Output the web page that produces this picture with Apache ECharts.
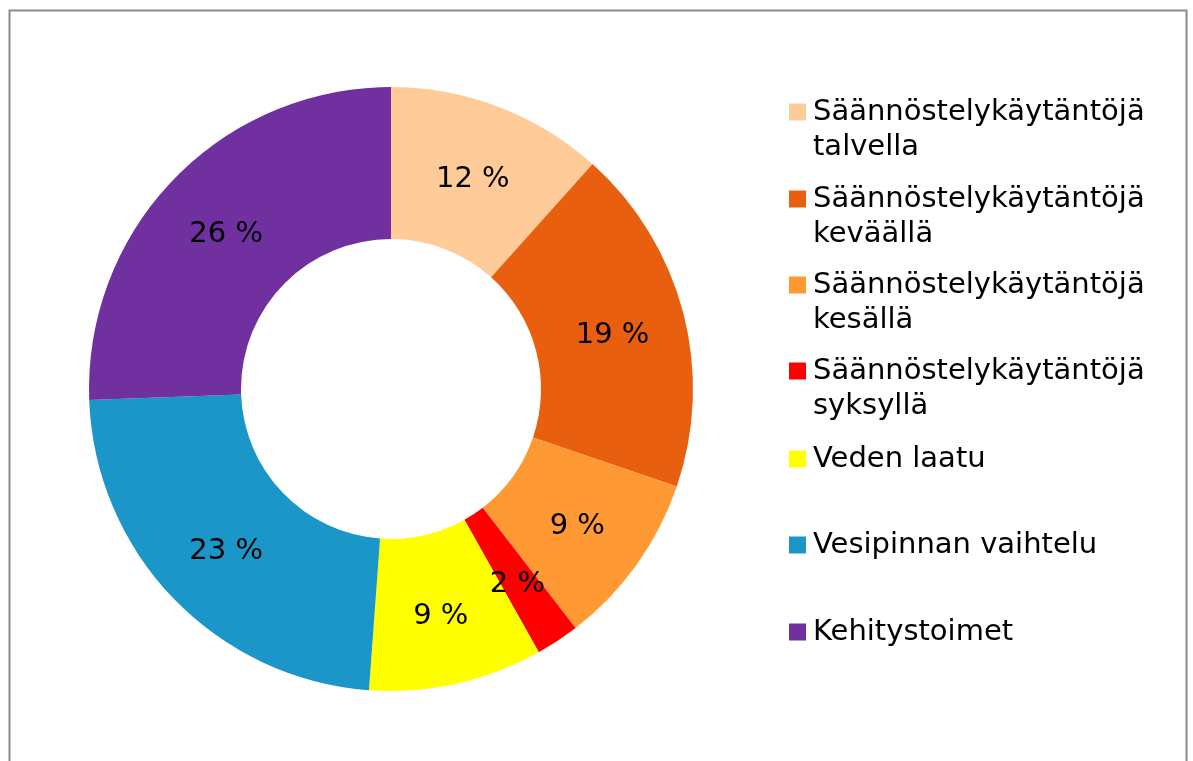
<!DOCTYPE html>
<html>
<head>
<meta charset="utf-8">
<style type="text/css">
    html, body {margin: 0; padding: 0; background: #fff;}
    #chart {width: 1193px; height: 761px;}
</style>
</head>
<body>
<div id="chart"></div>
<script src="https://cdn.jsdelivr.net/npm/echarts@6/dist/echarts.min.js"></script>
<script>
	// luokat ja vastausmäärät (yhteensä 43)
	var categories = [
		'Säännöstelykäytäntöjä talvella',
		'Säännöstelykäytäntöjä keväällä',
		'Säännöstelykäytäntöjä kesällä',
		'Säännöstelykäytäntöjä syksyllä',
		'Veden laatu',
		'Vesipinnan vaihtelu',
		'Kehitystoimet'
	];
	var counts = [5, 8, 4, 1, 4, 10, 11];
	var colors = ['#FFCC99', '#E8600F', '#FF9933', '#FF0000', '#FFFF00', '#1A96C8', '#7030A0'];

	var font = 'DejaVu Sans';
	var legendIconY = [111, 198, 284, 370, 458, 544, 631];

	function isTwoLines(name) {
		return name.indexOf('Säännöstelykäytäntöjä ') === 0;
	}

	function legendText(name) {
		if (isTwoLines(name)) {
			// tyhjä rivi ylös, jotta ensimmäinen rivi osuu neliön kohdalle
			return '\u00a0\n' + name.replace(' ', '\n');
		}
		return name;
	}

	var legends = [];
	var pieData = [];
	for (var i = 0; i < categories.length; i++) {
		var name = categories[i];
		legends.push({
			data: [name],
			orient: 'vertical',
			left: 789,
			top: legendIconY[i] - (isTwoLines(name) ? 52.5 : 17.5),
			padding: 0,
			itemWidth: 17,
			itemHeight: 17,
			icon: 'rect',
			selectedMode: false,
			formatter: legendText,
			textStyle: {
				fontFamily: font,
				fontSize: 29,
				lineHeight: 35,
				color: '#000',
				padding: [2, 0, 0, 2]
			}
		});
		pieData.push({ name: name, value: counts[i] });
	}

	var chart = echarts.init(document.getElementById('chart'));
	var option = {
		animation: false,
		color: colors,
		graphic: [{
			type: 'rect',
			shape: { x: 9.5, y: 10.5, width: 1177, height: 800 },
			style: { fill: 'none', stroke: '#8c8c8c', lineWidth: 2 },
			silent: true
		}],
		legend: legends,
		series: [{
			type: 'pie',
			center: [391, 389],
			radius: [150, 302],
			startAngle: 90,
			clockwise: true,
			avoidLabelOverlap: false,
			itemStyle: { borderWidth: 0 },
			label: {
				show: true,
				position: 'inside',
				offset: [0, 4],
				fontFamily: font,
				fontSize: 29,
				color: '#000',
				formatter: function (p) {
					return Math.round(p.percent) + ' %';
				}
			},
			labelLine: { show: false },
			emphasis: { disabled: true },
			data: pieData
		}]
	};
	chart.setOption(option);
</script>
</body>
</html>
